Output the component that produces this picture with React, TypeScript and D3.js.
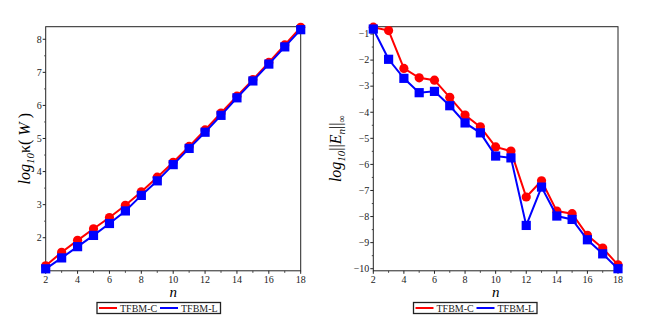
import React, { useRef, useEffect } from "react";
import * as d3 from "d3";

const nValues = [2, 3, 4, 5, 6, 7, 8, 9, 10, 11, 12, 13, 14, 15, 16, 17, 18];

// left panel: log10 of condition number
const kappaC = [1.15, 1.56, 1.92, 2.27, 2.61, 2.98, 3.39, 3.83, 4.28, 4.76, 5.26, 5.77, 6.28, 6.78, 7.3, 7.83, 8.36];
const kappaL = [1.06, 1.39, 1.73, 2.07, 2.43, 2.81, 3.28, 3.72, 4.21, 4.7, 5.19, 5.7, 6.23, 6.74, 7.25, 7.77, 8.29];

// right panel: log10 of max error
const errC = [-0.74, -0.87, -2.32, -2.68, -2.77, -3.43, -4.11, -4.56, -5.33, -5.49, -7.25, -6.63, -7.79, -7.89, -8.72, -9.21, -9.85];
const errL = [-0.81, -1.97, -2.7, -3.25, -3.2, -3.75, -4.41, -4.79, -5.68, -5.75, -8.34, -6.87, -7.98, -8.11, -8.89, -9.43, -10.0];

const xTicks = [2, 4, 6, 8, 10, 12, 14, 16, 18];
const xMinor = [3, 5, 7, 9, 11, 13, 15, 17];
const leftTicks = [2, 3, 4, 5, 6, 7, 8];
const rightTicks = [-1, -2, -3, -4, -5, -6, -7, -8, -9, -10];
const legendNames = ["TFBM-C", "TFBM-L"];
const colors = ["#ff0000", "#0000ff"];

const W = 646;
const H = 329;
const FONT = "'Liberation Serif', 'Times New Roman', serif";

type Panel = {
  x0: number;
  x1: number;
  yDomain: [number, number];
  yTicks: number[];
  series: number[][];
  labelX: number;
  label: (t: d3.Selection<SVGTextElement, unknown, null, undefined>) => void;
  legendX: number;
};

export default function App() {
  const ref = useRef<SVGSVGElement>(null);

  useEffect(() => {
    const svg = d3.select(ref.current);
    svg.selectAll("*").remove();
    svg.append("rect").attr("width", W).attr("height", H).attr("fill", "#fff");

    const top = 26.7;
    const bottom = 270.8;

    const panels: Panel[] = [
      {
        x0: 45.7,
        x1: 300.7,
        yDomain: [1.0, 8.38],
        yTicks: leftTicks,
        series: [kappaC, kappaL],
        legendX: 97,
        labelX: 30,
        label: (t) => {
          t.append("tspan").text("log");
          t.append("tspan").style("font-size", "11px").attr("dy", 4).text("10");
          t.append("tspan").attr("dy", -4).style("font-style", "normal").text("κ( ");
          t.append("tspan").text("W");
          t.append("tspan").style("font-style", "normal").text(" )");
        },
      },
      {
        x0: 373.3,
        x1: 618,
        yDomain: [-10.08, -0.72],
        yTicks: rightTicks,
        series: [errC, errL],
        legendX: 413.5,
        labelX: 341,
        label: (t) => {
          t.append("tspan").text("log");
          t.append("tspan").style("font-size", "11px").attr("dy", 4).text("10");
          t.append("tspan").attr("dy", -4).style("font-style", "normal").text("||");
          t.append("tspan").text("E");
          t.append("tspan").style("font-size", "11px").attr("dy", 4).text("n");
          t.append("tspan").attr("dy", -4).style("font-style", "normal").text("||");
          t.append("tspan").style("font-size", "10px").attr("dy", 4).style("font-style", "normal").text("∞");
        },
      },
    ];

    panels.forEach((p) => {
      const x = d3.scaleLinear().domain([2, 18]).range([p.x0, p.x1]);
      const y = d3.scaleLinear().domain(p.yDomain).range([bottom, top]);
      const g = svg.append("g").style("font-family", FONT);

      // frame
      g.append("rect")
        .attr("x", p.x0)
        .attr("y", top)
        .attr("width", p.x1 - p.x0)
        .attr("height", bottom - top)
        .attr("fill", "none")
        .attr("stroke", "#222")
        .attr("stroke-width", 1);

      // x ticks
      g.selectAll(".xt")
        .data(xTicks)
        .join("line")
        .attr("x1", (d) => x(d))
        .attr("x2", (d) => x(d))
        .attr("y1", bottom)
        .attr("y2", bottom + 3)
        .attr("stroke", "#222");
      g.selectAll(".xm")
        .data(xMinor)
        .join("line")
        .attr("x1", (d) => x(d))
        .attr("x2", (d) => x(d))
        .attr("y1", bottom)
        .attr("y2", bottom + 2)
        .attr("stroke", "#444");
      g.selectAll(".xl")
        .data(xTicks)
        .join("text")
        .attr("x", (d) => x(d))
        .attr("y", bottom + 12.5)
        .attr("text-anchor", "middle")
        .style("font-size", "10px")
        .attr("fill", "#222")
        .text((d) => d);

      // y ticks
      const minor = p.yTicks.map((d) => d + 0.5).filter((d) => d < p.yDomain[1]);
      g.selectAll(".yt")
        .data(p.yTicks)
        .join("line")
        .attr("x1", p.x0)
        .attr("x2", p.x0 - 3)
        .attr("y1", (d) => y(d))
        .attr("y2", (d) => y(d))
        .attr("stroke", "#222");
      g.selectAll(".ym")
        .data(minor)
        .join("line")
        .attr("x1", p.x0)
        .attr("x2", p.x0 - 1.5)
        .attr("y1", (d) => y(d))
        .attr("y2", (d) => y(d))
        .attr("stroke", "#444");
      g.selectAll(".yl")
        .data(p.yTicks)
        .join("text")
        .attr("x", p.x0 - 4)
        .attr("y", (d) => y(d) + 3.3)
        .attr("text-anchor", "end")
        .style("font-size", "10px")
        .attr("fill", "#222")
        .text((d) => (d < 0 ? "\u2212" + Math.abs(d) : String(d)));

      // axis titles
      g.append("text")
        .attr("x", (p.x0 + p.x1) / 2)
        .attr("y", bottom + 26)
        .attr("text-anchor", "middle")
        .style("font-style", "italic")
        .style("font-size", "15px")
        .text("n");

      const ylab = g
        .append("text")
        .attr("transform", `translate(${p.labelX},${(top + bottom) / 2}) rotate(-90)`)
        .attr("text-anchor", "middle")
        .style("font-style", "italic")
        .style("font-size", "16px");
      p.label(ylab);

      // series
      const line = d3
        .line<number>()
        .x((_, i) => x(nValues[i]))
        .y((d) => y(d));
      p.series.forEach((s, si) => {
        g.append("path")
          .attr("d", line(s))
          .attr("fill", "none")
          .attr("stroke", colors[si])
          .attr("stroke-width", 2);
        if (si === 0) {
          g.selectAll(".c")
            .data(s)
            .join("circle")
            .attr("cx", (_, i) => x(nValues[i]))
            .attr("cy", (d) => y(d))
            .attr("r", 4.6)
            .attr("fill", colors[si]);
        } else {
          g.selectAll(".s")
            .data(s)
            .join("rect")
            .attr("x", (_, i) => x(nValues[i]) - 4.6)
            .attr("y", (d) => y(d) - 4.6)
            .attr("width", 9.2)
            .attr("height", 9.2)
            .attr("fill", colors[si]);
        }
      });

      // legend
      const lg = g.append("g").attr("transform", `translate(${p.legendX},302.5)`);
      lg.append("rect")
        .attr("width", 123.5)
        .attr("height", 11)
        .attr("fill", "#fff")
        .attr("stroke", "#222")
        .attr("stroke-width", 1.3);
      legendNames.forEach((name, i) => {
        const ox = i * 61;
        lg.append("line")
          .attr("x1", ox + 2)
          .attr("x2", ox + 20)
          .attr("y1", 5.5)
          .attr("y2", 5.5)
          .attr("stroke", colors[i])
          .attr("stroke-width", 2);
        lg.append("text")
          .attr("x", ox + 23)
          .attr("y", 9)
          .style("font-size", "10px")
          .attr("fill", "#222")
          .text(name);
      });
    });
  }, []);

  return (
    <svg
      ref={ref}
      width={W}
      height={H}
      style={{ position: "absolute", left: 0, top: 0 }}
    />
  );
}
